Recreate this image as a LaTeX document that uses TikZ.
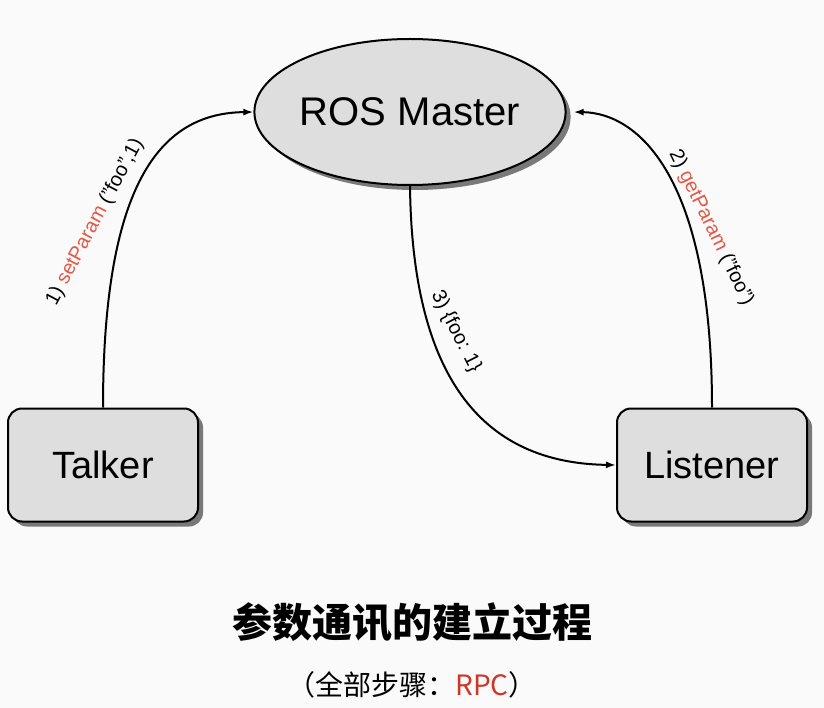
\documentclass[tikz,border=0pt]{standalone}
\usepackage{fontspec}
\setmainfont{Liberation Sans}
\newfontfamily\cjk{Noto Sans CJK SC}
\usetikzlibrary{shapes.geometric,arrows.meta,shadows}
\definecolor{lbred}{RGB}{228,88,72}
\definecolor{rpcred}{RGB}{205,55,40}
\definecolor{boxgray}{RGB}{222,222,222}
\definecolor{bg}{RGB}{250,250,250}
\begin{document}
\begin{tikzpicture}[x=1pt,y=-1pt,
 nshadow/.style={drop shadow={shadow xshift=5pt,shadow yshift=-5pt,fill=black!65,opacity=0.8}},
 nodebox/.style={draw=black, line width=2pt, fill=boxgray, rounded corners=14pt, minimum width=190pt, minimum height=113pt, inner sep=0pt, nshadow, font=\fontsize{38}{42}\selectfont},
 master/.style={ellipse, draw=black, line width=2pt, fill=boxgray, minimum width=274pt, minimum height=146pt, inner sep=0pt, nshadow, font=\fontsize{40}{44}\selectfont},
 conn/.style={line width=2pt, -{Latex[length=10pt,width=7pt]}},
 lbl/.style={font=\fontsize{20}{24}\selectfont, inner sep=0pt}
]
\fill[bg] (0,0) rectangle (824,708);
\useasboundingbox (0,0) rectangle (824,708);
\node[master] (master) at (410,112) {ROS Master};
\node[nodebox] (talker) at (103,465) {Talker};
\node[nodebox] (listener) at (712,465) {Listener};
\draw[conn] (talker.north) .. controls (103,175) and (165,113) .. (master.west);
\draw[conn] (listener.north) .. controls (712,180) and (640,113) .. ([xshift=7pt]master.east);
\draw[conn] (master.south) .. controls (412,360) and (470,463) .. (listener.west);
\node[lbl, rotate=62] (l1) at (95,222) {1) \textcolor{lbred}{setParam} ("foo",1)};
\node[lbl, rotate=-64] (l2) at (711,228) {2) \textcolor{lbred}{getParam} ("foo")};
\node[lbl, rotate=-63] (l3) at (456,332) {3) \{foo: 1\}};
\node[font=\cjk\bfseries\fontsize{40}{44}\selectfont] (title) at (412,622) {参数通讯的建立过程};
\node[font=\cjk\fontsize{28}{32}\selectfont] (sub) at (412,685) {（全部步骤：\textcolor{rpcred}{RPC}）};
\end{tikzpicture}
\end{document}
